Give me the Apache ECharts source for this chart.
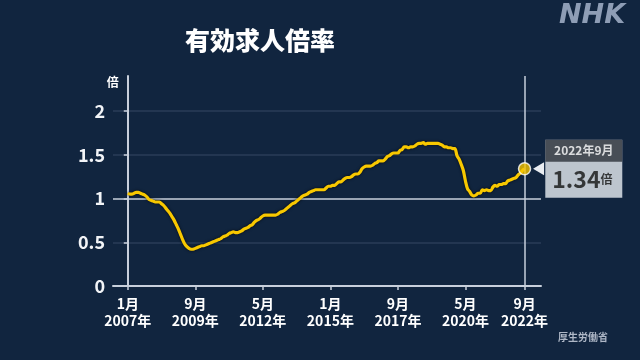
<!DOCTYPE html>
<html>
<head>
<meta charset="utf-8">
<script src="https://cdn.jsdelivr.net/npm/echarts@6/dist/echarts.min.js"></script>
<style>
html,body{margin:0;padding:0;background:#11253f;}
#c{width:640px;height:360px;}
</style>
</head>
<body>
<div id="c"></div>
<script>
// Monthly job-to-applicant ratio, Jan 2007 .. Sep 2022
var startYear = 2007;
var values = [
  1.06,1.05,1.05,1.06,1.07,1.07,1.06,1.05,1.04,1.02,0.99,0.98, // 2007
  0.97,0.96,0.96,0.96,0.94,0.92,0.89,0.86,0.83,0.79,0.75,0.70, // 2008
  0.65,0.59,0.53,0.48,0.45,0.43,0.42,0.42,0.43,0.44,0.45,0.46, // 2009
  0.46,0.47,0.48,0.49,0.50,0.51,0.52,0.53,0.54,0.56,0.57,0.58, // 2010
  0.60,0.61,0.62,0.61,0.61,0.62,0.63,0.65,0.66,0.67,0.69,0.70, // 2011
  0.73,0.75,0.76,0.78,0.80,0.81,0.81,0.81,0.81,0.81,0.81,0.82, // 2012
  0.84,0.85,0.86,0.88,0.90,0.92,0.94,0.95,0.97,0.99,1.01,1.03, // 2013
  1.04,1.05,1.07,1.08,1.09,1.10,1.10,1.10,1.10,1.10,1.12,1.14, // 2014
  1.14,1.15,1.15,1.17,1.19,1.19,1.21,1.23,1.24,1.24,1.25,1.27, // 2015
  1.28,1.28,1.30,1.34,1.36,1.37,1.37,1.37,1.38,1.40,1.41,1.43, // 2016
  1.43,1.43,1.45,1.48,1.49,1.51,1.52,1.52,1.52,1.55,1.56,1.59, // 2017
  1.59,1.58,1.59,1.59,1.60,1.62,1.63,1.63,1.64,1.62,1.63,1.63, // 2018
  1.63,1.63,1.63,1.63,1.62,1.61,1.59,1.59,1.58,1.58,1.57,1.57, // 2019
  1.49,1.45,1.39,1.32,1.20,1.11,1.08,1.04,1.03,1.04,1.06,1.06, // 2020
  1.10,1.09,1.10,1.09,1.09,1.13,1.15,1.14,1.16,1.16,1.17,1.17, // 2021
  1.20,1.21,1.22,1.23,1.24,1.27,1.29,1.32,1.34                 // 2022
];
// month labels (categories)
var months = values.map(function (v, i) {
  return (startYear + Math.floor(i / 12)) + '年' + (i % 12 + 1) + '月';
});
var xTickIndex = [0, 32, 64, 96, 128, 160, 188];
var xTickLabels = ['1月\n2007年', '9月\n2009年', '5月\n2012年', '1月\n2015年', '9月\n2017年', '5月\n2020年', '9月\n2022年'];
var yTicks = [0, 0.5, 1, 1.5, 2];
var yTickLabels = ['0', '0.5', '1', '1.5', '2'];
var unit = '倍';

var lastIdx = values.length - 1;
var lastVal = values[lastIdx];
var lineData = values.map(function (v, i) { return [i, v]; });
var FONT = '"Noto Sans CJK JP", "Noto Sans", sans-serif';

var chart = echarts.init(document.getElementById('c'), null, {renderer: 'canvas'});
chart.setOption({
  backgroundColor: '#11253f',
  animation: false,
  textStyle: {fontFamily: FONT},
  title: [
    {text: '有効求人倍率', left: 185, top: 28, padding: 0,
     textStyle: {color: '#ffffff', fontSize: 25, fontWeight: 900, fontFamily: FONT}},
    {text: 'NHK', left: 559, top: 2, padding: 0,
     textStyle: {color: '#8e9db5', fontSize: 27, fontWeight: 'bold', fontStyle: 'italic', fontFamily: '"DejaVu Sans", sans-serif'}},
    {text: '厚生労働省', left: 558, top: 332, padding: 0,
     textStyle: {color: '#aeb7c6', fontSize: 10, fontWeight: 'bold', fontFamily: FONT}}
  ],
  grid: {left: 113, right: 99, top: 76, bottom: 74},
  xAxis: {
    type: 'value', min: -7, max: 195.8,
    axisLine: {show: true, lineStyle: {color: '#c8d0dc', width: 2}},
    axisTick: {show: true, customValues: xTickIndex, length: 4, lineStyle: {color: '#c8d0dc', width: 1.5}},
    axisLabel: {
      customValues: xTickIndex, margin: 9,
      color: '#ffffff', fontSize: 14, fontWeight: 'bold', lineHeight: 17, fontFamily: FONT,
      formatter: function (v) {
        var k = xTickIndex.indexOf(Math.round(v));
        return k >= 0 ? xTickLabels[k] : '';
      }
    },
    splitLine: {show: false}
  },
  yAxis: {
    type: 'value', min: 0, max: 2.4,
    name: unit, nameLocation: 'end', nameGap: 0,
    nameTextStyle: {color: '#ffffff', fontSize: 12, fontWeight: 'bold', align: 'right', verticalAlign: 'top', padding: [0, 9, 0, 0], fontFamily: FONT},
    axisLine: {show: true, lineStyle: {color: '#c8d0dc', width: 2}},
    axisTick: {show: true, customValues: yTicks, length: 4, lineStyle: {color: '#c8d0dc', width: 1.5}},
    axisLabel: {
      customValues: yTicks, margin: 8,
      color: '#f2f4f7', fontSize: 18, fontWeight: 'bold', fontFamily: FONT,
      formatter: function (v) {
        var k = yTicks.indexOf(Math.round(v * 10) / 10);
        return k >= 0 ? yTickLabels[k] : '';
      }
    },
    splitLine: {show: true, lineStyle: {width: 1.5, color: ['rgba(0,0,0,0)', '#2a3d58', '#c9d1dc', '#2a3d58', '#2a3d58', 'rgba(0,0,0,0)']}}
  },
  series: [
    {
      type: 'line', data: lineData, showSymbol: false, smooth: 0.3,
      lineStyle: {color: '#f8c800', width: 3.2, shadowColor: 'rgba(0,0,0,0.75)', shadowBlur: 3},
      z: 3,
      markLine: {
        silent: true, symbol: 'none', label: {show: false},
        lineStyle: {color: '#c6cfdc', width: 1.5, type: 'solid'},
        data: [{xAxis: lastIdx}]
      }
    },
    {
      type: 'scatter', z: 5,
      data: [[lastIdx, lastVal]],
      symbol: 'circle', symbolSize: 12,
      itemStyle: {color: '#f5c400', borderColor: '#ffffff', borderWidth: 1.5},
      label: {
        show: true, position: 'right', distance: 14,
        backgroundColor: '#e9edf2', padding: 0,
        formatter: function () {
          return '{h|' + months[lastIdx] + '}\n{v|' + lastVal.toFixed(2) + '}{u|' + unit + '}';
        },
        rich: {
          h: {width: 77, height: 22, lineHeight: 22, align: 'center', backgroundColor: '#2b3038', color: '#ffffff', fontSize: 12, fontWeight: 'bold', fontFamily: FONT},
          v: {fontSize: 23, fontWeight: 'bold', color: '#111111', height: 31, lineHeight: 31, padding: [0, 0, 0, 7], fontFamily: FONT},
          u: {fontSize: 12, fontWeight: 'bold', color: '#111111', height: 31, lineHeight: 36, fontFamily: FONT}
        }
      },
      markPoint: {
        silent: true,
        symbol: 'triangle', symbolSize: [13, 11], symbolRotate: 90, symbolOffset: [14, 0],
        itemStyle: {color: '#e9edf2'},
        label: {show: false},
        data: [{coord: [lastIdx, lastVal]}]
      }
    }
  ]
});
</script>
</body>
</html>
